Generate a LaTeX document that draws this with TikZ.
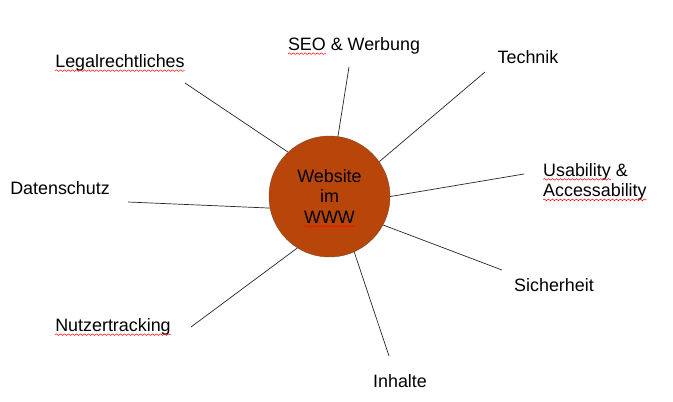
\documentclass[tikz,border=0pt]{standalone}
\usepackage{fontspec}
\setmainfont{Liberation Sans}
\usetikzlibrary{decorations.pathmorphing}

\definecolor{webfill}{RGB}{184,70,10}
\definecolor{webdraw}{RGB}{125,72,45}
% red spell-check wave under a word
\newcommand\spell[1]{\tikz[baseline=(w.base)]{\node[rectangle,draw=none,fill=none,minimum size=0pt,inner sep=0pt,outer sep=0pt] (w) {#1};\draw[overlay,red,line width=0.5pt,decorate,decoration={snake,amplitude=0.8pt,segment length=4pt}] ([yshift=-3pt]w.base west) -- ([yshift=-3pt]w.base east);}}

\begin{document}
\begin{tikzpicture}[x=1pt,y=-1pt,every node/.style={font=\fontsize{17.9}{20.5}\selectfont},hub node/.style={circle,draw=webdraw,fill=webfill,minimum size=121pt,inner sep=0pt,align=center},label node/.style={inner sep=0pt}]
                        \useasboundingbox (0,0) rectangle (673,402);

                        \node[hub node] (web) at (329.5,196.5) {Website\\im\\\spell{WWW}};

                        \coordinate (legal-end) at (185,83);
                        \coordinate (seo-end) at (349,67);
                        \coordinate (tech-end) at (485,72);
                        \coordinate (usab-end) at (524,174);
                        \coordinate (daten-end) at (128,202);
                        \coordinate (sicher-end) at (502,270);
                        \coordinate (inhalt-end) at (389,356);
                        \coordinate (nutzer-end) at (191,327);

                        \node[label node] (legal) at (120,63) {\spell{Legalrechtliches}};
                        \node[label node] (seo) at (354,46) {\spell{SEO} \& Werbung};
                        \node[label node] (tech) at (528,57) {Technik};
                        \node[label node,anchor=west,align=left] (usab) at (543,182) {\spell{Usability} \&\\\spell{Accessability}};
                        \node[label node] (daten) at (60,188) {Datenschutz};
                        \node[label node] (sicher) at (554,285) {Sicherheit};
                        \node[label node] (inhalt) at (400,381) {Inhalte};
                        \node[label node] (nutzer) at (113,327) {\spell{Nutzertracking}};

                        \path[draw=black!85,line width=0.7pt]
                            (web.133) edge (legal-end)
                            (web.82) edge (seo-end)
                            (web.35) edge (tech-end)
                            (web.0) edge (usab-end)
                            (web.191) edge (daten-end)
                            (web.-28) edge (sicher-end)
                            (web.-66) edge (inhalt-end)
                            (web.-122) edge (nutzer-end)
                            ;
                    \end{tikzpicture}
\end{document}
